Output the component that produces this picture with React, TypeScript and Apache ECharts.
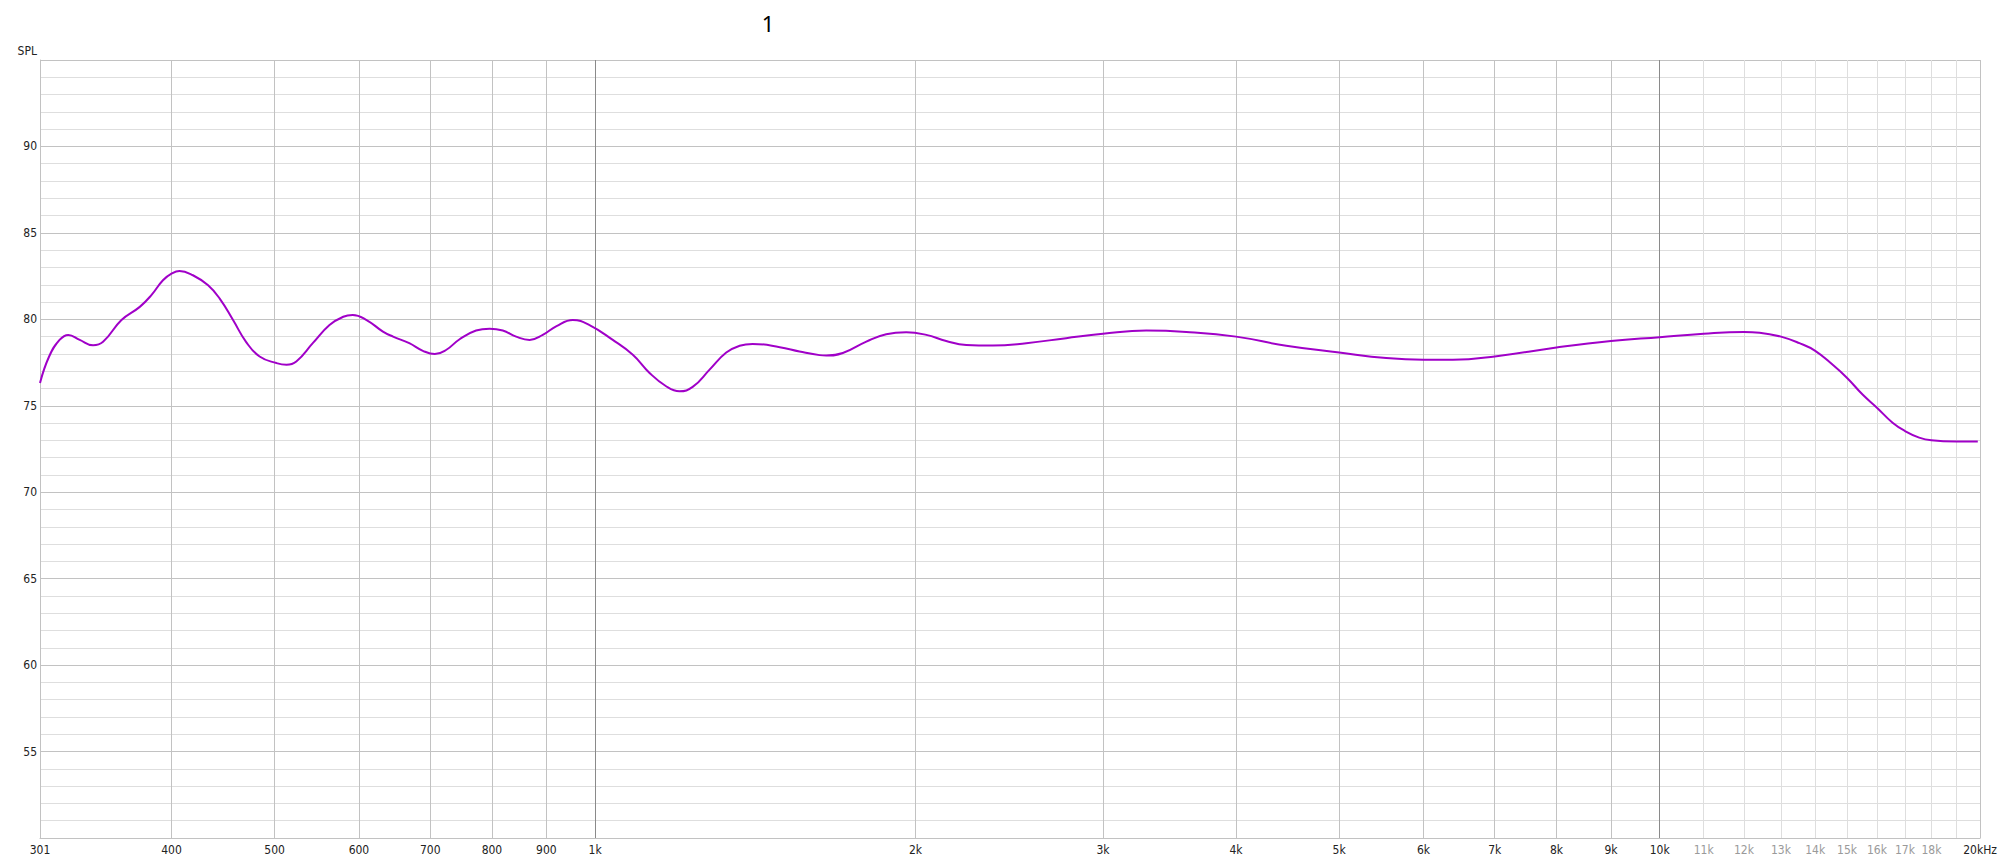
import React, { useEffect, useRef } from "react";
import * as echarts from "echarts";

// Frequency response (Hz) and level (dB SPL)
const freqHz = [
  301, 307, 314, 320, 328, 337.6, 345, 359, 373.5, 383, 392.7, 400, 407, 419, 433, 444, 457, 470, 484,
  502, 513, 524, 543, 563, 580, 592, 610, 632, 646, 669, 689, 707, 725, 746, 773, 796, 819, 843, 868,
  893, 920, 953, 988, 1039, 1085, 1125, 1166, 1200, 1235, 1281, 1328, 1367, 1406, 1491, 1556, 1625,
  1649, 1709, 1798, 1877, 1960, 2047, 2137, 2232, 2364, 2541, 2770, 3000, 3294, 3592, 4000, 4459,
  5000, 5535, 6000, 6393, 7000, 8000, 9000, 10000, 11000, 12000, 12413, 13000, 13530, 14000, 14540,
  15000, 15510, 16000, 16550, 17000, 17530, 18000, 19000, 19900,
];
const splDb = [
  76.32, 77.85, 78.81, 79.1, 78.81, 78.5, 78.7, 79.96, 80.72, 81.4, 82.26, 82.64, 82.8, 82.55, 81.97, 81.2, 79.96, 78.7, 77.85,
  77.47, 77.37, 77.56, 78.62, 79.67, 80.15, 80.25, 79.96, 79.29, 79.0, 78.62, 78.18, 77.99, 78.24, 78.85, 79.35, 79.46, 79.35, 79.0, 78.81,
  79.1, 79.61, 79.96, 79.67, 78.81, 77.95, 76.9, 76.13, 75.84, 76.09, 77.09, 78.08, 78.47, 78.58, 78.39, 78.14, 77.93,
  77.91, 78.05, 78.71, 79.14, 79.25, 79.1, 78.75, 78.52, 78.48, 78.62, 78.91, 79.16, 79.35, 79.27, 79.0, 78.47,
  78.08, 77.76, 77.66, 77.66, 77.85, 78.37, 78.75, 78.97, 79.17, 79.27, 79.23, 79.0, 78.62, 78.18, 77.37,
  76.61, 75.65, 74.89, 74.02, 73.54, 73.16, 73.0, 72.93, 72.93,
];

// X axis ticks (Hz) and their labels
const tickFreqs = [
  301, 400, 500, 600, 700, 800, 900, 1000, 2000, 3000, 4000, 5000, 6000, 7000, 8000, 9000, 10000,
  11000, 12000, 13000, 14000, 15000, 16000, 17000, 18000, 19000, 20000,
];
const tickLabels = [
  "301", "400", "500", "600", "700", "800", "900", "1k", "2k", "3k", "4k", "5k", "6k", "7k", "8k", "9k", "10k",
  "11k", "12k", "13k", "14k", "15k", "16k", "17k", "18k", "", "20kHz",
];

// Y axis
const yMin = 50;
const yMax = 95;
const yStep = 5;

const titleText = "1";
const yName = "SPL";

const FONT = '"Liberation Sans Narrow", "DejaVu Sans Condensed", "Noto Sans", sans-serif';

export default function App() {
  const ref = useRef<HTMLDivElement>(null);

  useEffect(() => {
    if (!ref.current) return;
    const chart = echarts.init(ref.current, undefined, { renderer: "svg" });
    const tickLog = tickFreqs.map((f) => Math.log10(f));
    const nearestIdx = (v: number) => {
      let best = 0;
      let bd = Infinity;
      tickLog.forEach((t, i) => {
        const d = Math.abs(t - v);
        if (d < bd) {
          bd = d;
          best = i;
        }
      });
      return best;
    };
    const isLight = (f: number) => f > 10000 && f < 20000;
    const splitColors = tickFreqs.map((f) =>
      f === 1000 || f === 10000 ? "#8a8a8a" : isLight(f) ? "#dedede" : "#c2c2c2"
    );

    chart.setOption({
      animation: false,
      backgroundColor: "#ffffff",
      title: {
        text: titleText,
        left: 763,
        top: 7,
        textAlign: "center",
        textStyle: { fontSize: 22, fontWeight: "normal", color: "#000", fontFamily: '"Noto Sans", sans-serif' },
      },
      grid: { left: 40, right: 19, top: 60, bottom: 24 },
      xAxis: {
        type: "value",
        min: tickLog[0],
        max: tickLog[tickLog.length - 1],
        axisLine: { show: true, lineStyle: { color: "#c2c2c2", width: 1 } },
        axisTick: { show: false, customValues: tickLog },
        axisLabel: {
          customValues: tickLog,
          margin: 6,
          fontSize: 12,
          fontFamily: FONT,
          formatter: (v: number) => tickLabels[nearestIdx(v)],
          color: (v: any) => (isLight(tickFreqs[nearestIdx(parseFloat(v))]) ? "#9a9a9a" : "#222"),
        },
        splitLine: { show: true, lineStyle: { color: splitColors, width: 1 } },
      },
      yAxis: {
        type: "value",
        min: yMin,
        max: yMax,
        interval: yStep,
        name: yName,
        nameLocation: "end",
        nameGap: 3,
        nameTextStyle: {
          align: "right",
          verticalAlign: "bottom",
          padding: [0, 3, 0, 0],
          fontSize: 12,
          fontFamily: FONT,
          color: "#222",
        },
        axisLine: { show: true, lineStyle: { color: "#c2c2c2", width: 1 } },
        axisTick: { show: false },
        axisLabel: {
          margin: 3,
          fontSize: 12,
          fontFamily: FONT,
          color: "#222",
          formatter: (v: number) => (v <= yMin || v >= yMax ? "" : String(v)),
        },
        splitLine: { show: true, lineStyle: { color: "#c2c2c2", width: 1 } },
        minorTick: { show: false, splitNumber: 5 },
        minorSplitLine: { show: true, lineStyle: { color: "#dedede", width: 1 } },
      },
      series: [
        {
          type: "line",
          data: freqHz.map((f, i) => [Math.log10(f), splDb[i]]),
          showSymbol: false,
          smooth: 0.45,
          silent: true,
          z: 5,
          lineStyle: { color: "#a000c8", width: 2 },
        },
      ],
    });
    return () => chart.dispose();
  }, []);

  return (
    <div
      ref={ref}
      style={{ position: "fixed", left: 0, top: 0, width: 2000, height: 862, background: "#fff" }}
    />
  );
}
